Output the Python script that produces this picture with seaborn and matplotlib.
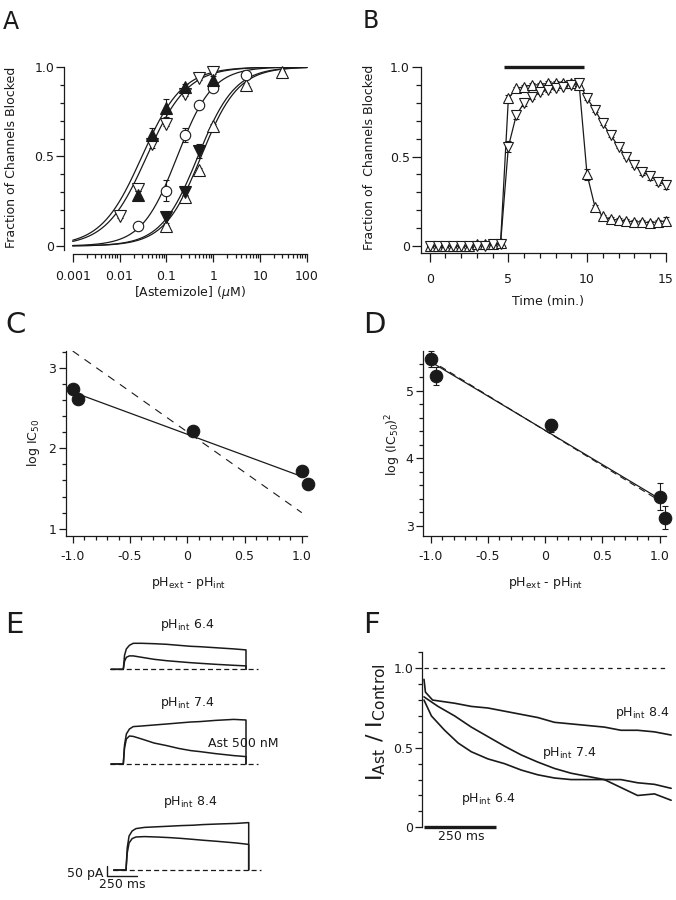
import numpy as np
import matplotlib
matplotlib.use('Agg')
import matplotlib.pyplot as plt
from matplotlib.ticker import MultipleLocator, FixedLocator, NullFormatter
import seaborn as sns

sns.set_theme(style='ticks')
plt.rcParams['font.family'] = ['DejaVu Sans']
plt.rcParams['mathtext.fontset'] = 'dejavusans'
plt.rcParams['axes.linewidth'] = 0.9
plt.rcParams['xtick.labelsize'] = 9
plt.rcParams['ytick.labelsize'] = 9
plt.rcParams['xtick.color'] = 'k'
plt.rcParams['ytick.color'] = 'k'
plt.rcParams['axes.edgecolor'] = 'k'
plt.rcParams['text.color'] = 'k'

# ---------------- data ----------------
# Panel A: dose-response
conc_up_open = [0.1, 0.25, 0.5, 1.0, 5.0, 30.0]
frac_up_open = [0.11, 0.275, 0.425, 0.67, 0.90, 0.97]
err_up_open = [0.01, 0.01, 0.01, 0.01, 0.01, 0.01]
conc_down_filled = [0.1, 0.25, 0.5]
frac_down_filled = [0.16, 0.30, 0.53]
err_down_filled = [0.03, 0.02, 0.04]
conc_up_filled = [0.025, 0.05, 0.1, 0.25, 1.0]
frac_up_filled = [0.285, 0.62, 0.77, 0.887, 0.93]
err_up_filled = [0.02, 0.04, 0.05, 0.02, 0.02]
conc_down_open = [0.01, 0.025, 0.05, 0.1, 0.25, 0.5, 1.0]
frac_down_open = [0.165, 0.32, 0.57, 0.68, 0.85, 0.94, 0.97]
err_down_open = [0.01, 0.01, 0.02, 0.01, 0.01, 0.01, 0.01]
conc_circle = [0.025, 0.1, 0.25, 0.5, 1.0, 5.0]
frac_circle = [0.11, 0.31, 0.62, 0.79, 0.885, 0.955]
err_circle = [0.01, 0.06, 0.04, 0.01, 0.01, 0.01]
# Hill fit parameters (up_filled, down_open, circle, down_filled, up_open)
fit_ic50 = [0.030, 0.038, 0.17, 0.47, 0.55]
fit_nh = [1.0, 1.0, 1.15, 1.1, 1.1]

# Panel B: time course
time_b = [0.0, 0.5, 1.0, 1.5, 2.0, 2.5, 3.0, 3.5, 4.0, 4.5, 5.0, 5.5, 6.0, 6.5, 7.0,
          7.5, 8.0, 8.5, 9.0, 9.5, 10.0, 10.5, 11.0, 11.5, 12.0, 12.5, 13.0, 13.5,
          14.0, 14.5, 15.0]
frac_b_up = [0.0, 0.0, 0.0, 0.0, 0.0, 0.0, 0.01, 0.01, 0.01, 0.015, 0.825, 0.88, 0.89,
             0.90, 0.90, 0.91, 0.91, 0.91, 0.91, 0.90, 0.40, 0.22, 0.165, 0.15, 0.145,
             0.14, 0.135, 0.135, 0.13, 0.135, 0.14]
err_b_up = [0.0, 0.0, 0.0, 0.0, 0.0, 0.0, 0.0, 0.0, 0.0, 0.0, 0.02, 0.01, 0.01, 0.01,
            0.01, 0.01, 0.01, 0.01, 0.01, 0.01, 0.03, 0.01, 0.01, 0.01, 0.01, 0.01,
            0.01, 0.01, 0.01, 0.01, 0.02]
frac_b_down = [0.0, 0.0, 0.0, 0.0, 0.0, 0.0, 0.0, 0.0, 0.01, 0.01, 0.555, 0.73, 0.80,
               0.83, 0.86, 0.87, 0.88, 0.89, 0.90, 0.91, 0.825, 0.76, 0.685, 0.62,
               0.555, 0.50, 0.45, 0.415, 0.39, 0.36, 0.34]
err_b_down = [0.0, 0.0, 0.0, 0.0, 0.0, 0.0, 0.0, 0.0, 0.0, 0.0, 0.03, 0.02, 0.02, 0.01,
              0.01, 0.01, 0.01, 0.01, 0.01, 0.01, 0.01, 0.01, 0.01, 0.01, 0.01, 0.01,
              0.01, 0.02, 0.02, 0.02, 0.02]
drug_on, drug_off = 4.7, 9.8

# Panel C
dph_c = [-1.0, -0.95, 0.05, 1.0, 1.05]
logic50_c = [2.74, 2.61, 2.21, 1.72, 1.56]
err_c = [0.03, 0.03, 0.04, 0.06, 0.05]
fit_c_x = [-1.0, 1.0]
fit_c_solid = [2.70, 1.65]
fit_c_dashed = [3.21, 1.20]

# Panel D
dph_d = [-1.0, -0.95, 0.05, 1.0, 1.05]
logic50sq_d = [5.47, 5.22, 4.49, 3.43, 3.12]
err_d = [0.12, 0.13, 0.10, 0.20, 0.17]
fit_d_solid_x = [-1.0, 1.0]
fit_d_solid = [5.43, 3.40]
fit_d_dashed_x = [-1.0, 1.05]
fit_d_dashed = [5.45, 3.32]

# Panel E: current traces (ms, pA)
time_e = [-100, 0, 10, 25, 50, 81, 150, 250, 353, 450, 550, 624, 750, 900, 1000, 1000]
ctrl_64 = [0, 0, 70, 102, 120, 130, 130, 128, 125, 120, 115, 113, 108, 102, 97, 0]
ast_64 = [0, 0, 40, 60, 67, 67, 60, 50, 43, 38, 33, 30, 25, 20, 17, 0]
ctrl_74 = [0, 0, 95, 150, 175, 187, 190, 195, 200, 205, 210, 212, 218, 223, 220, 0]
ast_74 = [0, 0, 80, 125, 140, 138, 125, 105, 92, 78, 67, 62, 52, 42, 37, 0]
ctrl_84 = [0, 0, 110, 170, 195, 207, 213, 216, 219, 222, 224, 227, 230, 233, 237, 0]
ast_84 = [0, 0, 85, 135, 157, 165, 167, 165, 162, 158, 153, 149, 143, 135, 128, 0]
e_labels = [r'pH$_{\rm int}$ 6.4', r'pH$_{\rm int}$ 7.4', r'pH$_{\rm int}$ 8.4']

# Panel F: ratio traces
t_f84 = [0, 5, 30, 107, 165, 223, 281, 339, 397, 455, 513, 571, 629, 687, 745, 804, 862]
r_f84 = [0.93, 0.85, 0.80, 0.78, 0.76, 0.75, 0.73, 0.71, 0.69, 0.66, 0.65, 0.64, 0.63,
         0.61, 0.61, 0.60, 0.58]
t_f74 = [0, 49, 107, 165, 223, 281, 339, 397, 455, 513, 571, 629, 687, 745, 804, 862]
r_f74 = [0.82, 0.76, 0.70, 0.63, 0.57, 0.51, 0.455, 0.41, 0.37, 0.34, 0.32, 0.30, 0.30,
         0.28, 0.27, 0.245]
t_f64 = [0, 26, 72, 119, 165, 223, 281, 339, 397, 455, 513, 571, 629, 687, 745, 804, 862]
r_f64 = [0.80, 0.70, 0.61, 0.53, 0.475, 0.43, 0.40, 0.36, 0.33, 0.31, 0.30, 0.30, 0.30,
         0.25, 0.20, 0.21, 0.17]

# ---------------- layout helpers ----------------
W, H = 676, 900
fig = plt.figure(figsize=(W / 100, H / 100), dpi=100)


def box(l, t, r, b):
    return [l / W, 1 - b / H, (r - l) / W, (b - t) / H]


def fx(px):
    return px / W


def fy(py):
    return 1 - py / H


def style(ax, major_len=5.0, minor_len=2.8, xpad=5, ypad=1.5):
    for s in ['top', 'right']:
        ax.spines[s].set_visible(False)
    ax.tick_params(which='major', direction='out', length=major_len, width=0.9, color='k')
    ax.tick_params(which='minor', direction='out', length=minor_len, width=0.9, color='k')
    ax.tick_params(axis='x', which='major', pad=xpad)
    ax.tick_params(axis='y', which='major', pad=ypad)
    ax.set_xlabel('')
    ax.set_ylabel('')
    ax.grid(False)
    ax.set_facecolor('white')


line_kw = dict(color='k', lw=0.9, estimator=None, sort=False, legend=False)
open_kw = dict(mfc='white', mec='k', mew=0.8, linestyle='none', clip_on=False, zorder=5)
fill_kw = dict(mfc='k', mec='k', mew=0.8, linestyle='none', clip_on=False, zorder=6)
err_kw = dict(fmt='none', ecolor='k', elinewidth=0.8, capsize=2, capthick=0.8, zorder=4,
              clip_on=False)

# ---------------- Panel A ----------------
axA = fig.add_axes(box(64, 67, 310, 254))
xgrid = np.logspace(-3, 2, 300)
for ic, nh in zip(fit_ic50, fit_nh):
    sns.lineplot(x=xgrid, y=1 / (1 + (ic / xgrid) ** nh), ax=axA, **line_kw)
for c, f, e, m, kw, ms in [
    (conc_up_open, frac_up_open, err_up_open, '^', open_kw, 8),
    (conc_down_filled, frac_down_filled, err_down_filled, 'v', fill_kw, 8),
    (conc_circle, frac_circle, err_circle, 'o', open_kw, 7.5),
    (conc_down_open, frac_down_open, err_down_open, 'v', open_kw, 8),
    (conc_up_filled, frac_up_filled, err_up_filled, '^', fill_kw, 8),
]:
    axA.errorbar(c, f, yerr=e, **err_kw)
    axA.plot(c, f, marker=m, ms=ms, **kw)
axA.set_xscale('log')
axA.set_xlim(10 ** (-3 - 8.7 / 46.9), 10 ** (2 + 3 / 46.9))
axA.set_ylim(-8 / 179, 1.0)
style(axA, major_len=5.5, minor_len=3, xpad=6)
axA.spines['left'].set_bounds(-0.02, 1.0)
axA.spines['bottom'].set_bounds(1e-3, 100)
decades = [0.001, 0.01, 0.1, 1, 10, 100]
axA.xaxis.set_major_locator(FixedLocator(decades))
axA.set_xticklabels(['0.001', '0.01', '0.1', '1', '10', '100'])
minor_a = [d * k for d in decades[:-1] for k in range(2, 10)]
axA.xaxis.set_minor_locator(FixedLocator(minor_a))
axA.xaxis.set_minor_formatter(NullFormatter())
axA.yaxis.set_major_locator(FixedLocator([0, 0.5, 1.0]))
axA.set_yticklabels(['0', '0.5', '1.0'])
axA.yaxis.set_minor_locator(MultipleLocator(0.1))

# ---------------- Panel B ----------------
axB = fig.add_axes(box(421, 67, 666, 252.7))
sns.lineplot(x=time_b, y=frac_b_up, ax=axB, **line_kw)
sns.lineplot(x=time_b, y=frac_b_down, ax=axB, **line_kw)
axB.errorbar(time_b, frac_b_up, yerr=err_b_up, **err_kw)
axB.errorbar(time_b, frac_b_down, yerr=err_b_down, **err_kw)
axB.plot(time_b, frac_b_up, marker='^', ms=7.5, **open_kw)
axB.plot(time_b, frac_b_down, marker='v', ms=7.5, **open_kw)
axB.plot([drug_on, drug_off], [1.0, 1.0], color='k', lw=2.4, clip_on=False,
         solid_capstyle='butt')
axB.set_xlim(-8.7 / 15.7, 15 + 0.3 / 15.7)
axB.set_ylim(-6.7 / 179, 1.0)
style(axB, major_len=6.5, minor_len=3.8, xpad=8)
axB.spines['bottom'].set_bounds(-8.7 / 15.7, 15)
axB.xaxis.set_major_locator(FixedLocator([0, 5, 10, 15]))
axB.xaxis.set_minor_locator(MultipleLocator(1))
axB.yaxis.set_major_locator(FixedLocator([0, 0.5, 1.0]))
axB.set_yticklabels(['0', '0.5', '1.0'])
axB.yaxis.set_minor_locator(MultipleLocator(0.1))

# ---------------- Panel C ----------------
axC = fig.add_axes(box(65.7, 351, 306.7, 536))
sns.lineplot(x=fit_c_x, y=fit_c_solid, ax=axC, **line_kw)
axC.plot(fit_c_x, fit_c_dashed, color='k', lw=0.8, linestyle=(0, (7, 6)))
axC.errorbar(dph_c, logic50_c, yerr=err_c, **err_kw)
axC.plot(dph_c, logic50_c, marker='o', ms=9, **fill_kw)
axC.set_xlim(-1.061, 1.043)
axC.set_ylim(0.91, 3.21)
style(axC, major_len=4.8, minor_len=2.8, xpad=5, ypad=2)
axC.xaxis.set_major_locator(FixedLocator([-1.0, -0.5, 0, 0.5, 1.0]))
axC.set_xticklabels(['-1.0', '-0.5', '0', '0.5', '1.0'])
axC.xaxis.set_minor_locator(MultipleLocator(0.1))
axC.yaxis.set_major_locator(FixedLocator([1, 2, 3]))
axC.yaxis.set_minor_locator(MultipleLocator(0.2))

# ---------------- Panel D ----------------
axD = fig.add_axes(box(423, 351, 666.3, 536))
sns.lineplot(x=fit_d_solid_x, y=fit_d_solid, ax=axD, **line_kw)
axD.plot(fit_d_dashed_x, fit_d_dashed, color='k', lw=0.8, linestyle=(0, (6, 4)))
axD.errorbar(dph_d, logic50sq_d, yerr=err_d, **err_kw)
axD.plot(dph_d, logic50sq_d, marker='o', ms=9, **fill_kw)
axD.set_xlim(-1.067, 1.058)
axD.set_ylim(2.85, 5.59)
style(axD, major_len=4.8, minor_len=2.8, xpad=5, ypad=2)
axD.xaxis.set_major_locator(FixedLocator([-1.0, -0.5, 0, 0.5, 1.0]))
axD.set_xticklabels(['-1.0', '-0.5', '0', '0.5', '1.0'])
axD.xaxis.set_minor_locator(MultipleLocator(0.1))
axD.yaxis.set_major_locator(FixedLocator([3, 4, 5]))
axD.yaxis.set_minor_locator(MultipleLocator(0.2))

# ---------------- Panel E ----------------
ms_px = 0.1227
pa_px = 0.2
e_xlim = (-150, 1150)
e_ylim = (-40, 360)
e_sets = [(ctrl_64, ast_64), (ctrl_74, ast_74), (ctrl_84, ast_84)]
e_base_px = [669.3, 764.0, 870.0]
e_zero_px = [123.3, 123.3, 126.0]
e_label_pa = [221, 305, 341]
axesE = []
for (ctrl, ast), base, zero, lab, lab_pa in zip(e_sets, e_base_px, e_zero_px, e_labels,
                                                e_label_pa):
    left = zero + e_xlim[0] * ms_px
    right = zero + e_xlim[1] * ms_px
    top = base - e_ylim[1] * pa_px
    bottom = base - e_ylim[0] * pa_px
    ax = fig.add_axes(box(left, top, right, bottom))
    ax.plot([-110, 1100], [0, 0], color='k', lw=0.9, linestyle=(0, (4, 2.5)))
    sns.lineplot(x=time_e, y=ctrl, ax=ax, color='k', lw=1.1, estimator=None, sort=False,
                 legend=False)
    sns.lineplot(x=time_e, y=ast, ax=ax, color='k', lw=1.1, estimator=None, sort=False,
                 legend=False)
    ax.set_xlim(*e_xlim)
    ax.set_ylim(*e_ylim)
    ax.text(520, lab_pa, lab, ha='center', va='center', fontsize=9)
    ax.axis('off')
    axesE.append(ax)
axesE[1].text(690, 103, 'Ast 500 nM', ha='left', va='center', fontsize=9)
# scale bar on the last trace set
sb_t0, sb_ms, sb_y0, sb_pa = -157, 250, -30, 50
axE3 = axesE[2]
axE3.plot([sb_t0, sb_t0, sb_t0 + sb_ms], [sb_y0 + sb_pa, sb_y0, sb_y0], color='k', lw=1.0,
          clip_on=False)
axE3.text(sb_t0 - 28, sb_y0 + 13, '50 pA', ha='right', va='center', fontsize=9)
axE3.text(sb_t0 + 130, sb_y0 - 45, '250 ms', ha='center', va='center', fontsize=9)

# ---------------- Panel F ----------------
axF = fig.add_axes(box(422.3, 651.7, 672, 827.3))
axF.plot([0, 845], [1.0, 1.0], color='k', lw=0.9, linestyle=(0, (3.5, 3.5)))
for t, r in [(t_f84, r_f84), (t_f74, r_f74), (t_f64, r_f64)]:
    sns.lineplot(x=t, y=r, ax=axF, color='k', lw=1.2, estimator=None, sort=False,
                 legend=False)
f_scale_ms = 250
axF.plot([0, f_scale_ms], [0, 0], color='k', lw=2.4, clip_on=False, solid_capstyle='butt')
axF.text(f_scale_ms / 2 + 5, -0.059, '250 ms', ha='center', va='center', fontsize=9)
axF.text(666, 0.717, r'pH$_{\rm int}$ 8.4', ha='left', va='center', fontsize=9)
axF.text(411, 0.465, r'pH$_{\rm int}$ 7.4', ha='left', va='center', fontsize=9)
axF.text(128, 0.18, r'pH$_{\rm int}$ 6.4', ha='left', va='center', fontsize=9)
axF.set_xlim(-5.9, 865)
axF.set_ylim(0, 1.104)
style(axF, major_len=5, minor_len=2.8, ypad=1.5)
axF.spines['bottom'].set_visible(False)
axF.set_xticks([])
axF.yaxis.set_major_locator(FixedLocator([0, 0.5, 1.0]))
axF.set_yticklabels(['0', '0.5', '1.0'])
axF.yaxis.set_minor_locator(MultipleLocator(0.1))

# ---------------- labels ----------------
fig.text(fx(12), fy(157), 'Fraction of Channels Blocked', rotation=90, ha='center',
         va='center', fontsize=9)
fig.text(fx(190), fy(292.5), r'[Astemizole] ($\mu$M)', ha='center', va='center',
         fontsize=9)
fig.text(fx(369.7), fy(157), 'Fraction of  Channels Blocked', rotation=90, ha='center',
         va='center', fontsize=9)
fig.text(fx(548), fy(301), 'Time (min.)', ha='center', va='center', fontsize=9)
fig.text(fx(33), fy(443), r'log IC$_{50}$', rotation=90, ha='center', va='center',
         fontsize=9)
fig.text(fx(188), fy(583), r'pH$_{\rm ext}$ - pH$_{\rm int}$', ha='center', va='center',
         fontsize=9)
fig.text(fx(393), fy(444), r'log (IC$_{50}$)$^{2}$', rotation=90, ha='center',
         va='center', fontsize=9)
fig.text(fx(545), fy(583), r'pH$_{\rm ext}$ - pH$_{\rm int}$', ha='center', va='center',
         fontsize=9)
fig.text(fx(376), fy(722), r'I$_{\rm Ast}$ / I$_{\rm Control}$', rotation=90,
         ha='center', va='center', fontsize=16)

for letter, xp, yp, fs in [('A', 3.3, 29.3, 17), ('B', 362.5, 28.3, 17),
                           ('C', 5, 333.3, 21), ('D', 363, 333.3, 21),
                           ('E', 5, 633.3, 21), ('F', 363, 633.3, 21)]:
    fig.text(fx(xp), fy(yp), letter, ha='left', va='baseline', fontsize=fs)

fig.savefig('out.png', dpi=100, facecolor='white')
